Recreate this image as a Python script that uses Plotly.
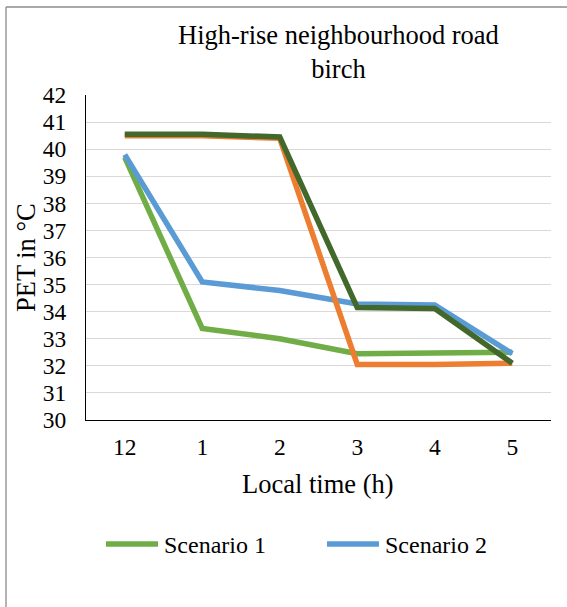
import plotly.graph_objects as go

# PET values per local hour for four birch-planting scenarios
hours = ["12", "1", "2", "3", "4", "5"]
scenario_1 = [39.7, 33.38, 33.0, 32.45, 32.47, 32.5]
scenario_2 = [39.8, 35.1, 34.78, 34.28, 34.25, 32.45]
scenario_3 = [40.5, 40.5, 40.4, 32.05, 32.05, 32.1]
scenario_4 = [40.55, 40.55, 40.45, 34.15, 34.12, 32.1]

series = [
    ("Scenario 1", scenario_1, "#70AD47", True),
    ("Scenario 2", scenario_2, "#5B9BD5", True),
    ("Scenario 3", scenario_3, "#ED7D31", False),
    ("Scenario 4", scenario_4, "#43682B", False),
]

W, H = 567, 607
L, R, T, B = 86, 551, 95, 420
FONT = "Liberation Serif"


def xp(px):
    return (px - L) / (R - L)


def yp(py):
    return (B - py) / (B - T)


fig = go.Figure()
for name, vals, color, _ in series:
    fig.add_trace(go.Scatter(
        x=hours, y=vals, mode="lines", name=name,
        line=dict(color=color, width=5.5),
        showlegend=False,
    ))

shapes = [
    # outer chart frame (left and top edges)
    dict(type="line", xref="paper", yref="paper",
         x0=xp(6), x1=xp(6), y0=yp(7), y1=yp(H + 5),
         line=dict(color="#8c8c8c", width=1.3)),
    dict(type="line", xref="paper", yref="paper",
         x0=xp(6), x1=xp(W + 5), y0=yp(7), y1=yp(7),
         line=dict(color="#8c8c8c", width=1.3)),
]

annotations = [
    dict(text="High-rise neighbourhood road<br>birch", xref="paper", yref="paper",
         x=xp(338), y=yp(52), xanchor="center", yanchor="middle", showarrow=False,
         font=dict(family=FONT, size=26.5, color="#000000")),
    dict(text="PET in °C", xref="paper", yref="paper", textangle=-90,
         x=xp(26), y=yp(258), xanchor="center", yanchor="middle", showarrow=False,
         font=dict(family=FONT, size=26.5, color="#000000")),
    dict(text="Local time (h)", xref="paper", yref="paper",
         x=xp(318), y=yp(484), xanchor="center", yanchor="middle", showarrow=False,
         font=dict(family=FONT, size=26.5, color="#000000")),
]

# legend entries drawn as line swatches with labels
legend_x = [104, 325]
for (name, _, color, shown), lx in zip(series, legend_x):
    if not shown:
        continue
    shapes.append(dict(type="line", xref="paper", yref="paper",
                       x0=xp(lx + 2), x1=xp(lx + 54), y0=yp(544), y1=yp(544),
                       line=dict(color=color, width=5.5)))
    annotations.append(dict(text=name, xref="paper", yref="paper",
                            x=xp(lx + 58), y=yp(545), xanchor="left", yanchor="middle",
                            showarrow=False,
                            font=dict(family=FONT, size=24, color="#000000")))

fig.update_layout(
    width=W, height=H,
    margin=dict(l=L, r=W - R, t=T, b=H - B),
    paper_bgcolor="#ffffff", plot_bgcolor="#ffffff",
    showlegend=False,
    shapes=shapes, annotations=annotations,
    font=dict(family=FONT, size=23.5, color="#000000"),
)
fig.update_xaxes(
    type="category", range=[-0.5, 5.5],
    showline=True, linecolor="#000000", linewidth=1.3,
    showgrid=False, ticks="", ticklabelstandoff=6,
    tickfont=dict(family=FONT, size=23.5, color="#000000"),
)
fig.update_yaxes(
    range=[30, 42], tickmode="linear", tick0=30, dtick=1,
    showline=True, linecolor="#000000", linewidth=1.3,
    showgrid=True, gridcolor="#d9d9d9", gridwidth=1.3,
    zeroline=False, ticks="", ticklabelstandoff=14,
    tickfont=dict(family=FONT, size=23.5, color="#000000"),
)

fig.write_html("out.html")
